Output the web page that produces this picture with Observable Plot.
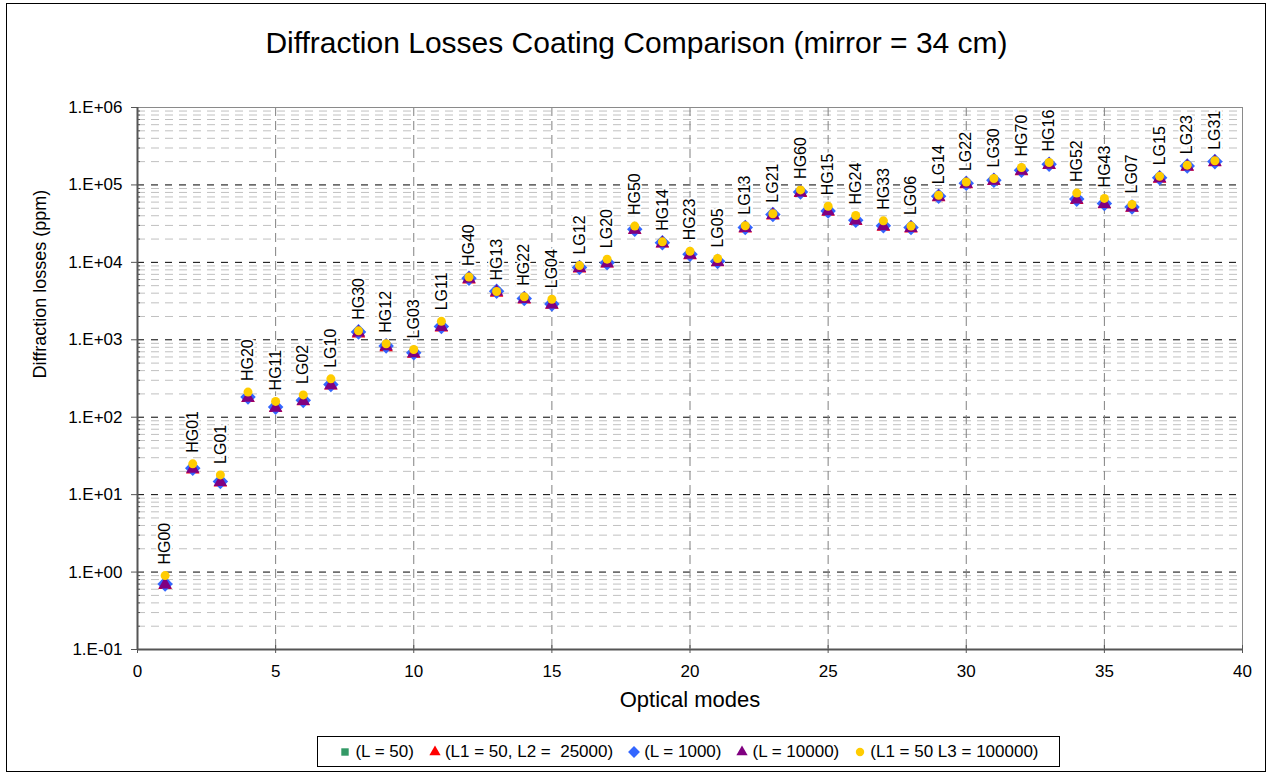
<!DOCTYPE html>
<html>
<head>
<meta charset="utf-8">
<script src="https://cdn.jsdelivr.net/npm/d3@7"></script>
<script src="https://cdn.jsdelivr.net/npm/@observablehq/plot@0.6"></script>
<style>
  html, body { margin: 0; padding: 0; background: white; }
  #wrap { position: relative; width: 1273px; height: 775px; overflow: hidden; font-family: "Liberation Sans", Arial, sans-serif; background: white; }
  #border { position: absolute; left: 6px; top: 3px; width: 1260px; height: 769px; border: 1px solid black; box-sizing: border-box; pointer-events: none; }
  #title { position: absolute; left: 0; width: 1273px; top: 26px; line-height: 34px; text-align: center; font-size: 30px; color: black; }
  #chart { position: absolute; left: 0; top: 0; }
  #legend { position: absolute; left: 317px; top: 736px; width: 743px; height: 31px; border: 1px solid black; box-sizing: border-box;
            display: flex; align-items: center; justify-content: center; font-size: 17px; white-space: pre; background: white; }
  #legend .item { display: flex; align-items: center; margin: 0 7px; }
  #legend svg { margin-right: 3px; }
</style>
</head>
<body>
<div id="wrap">
  <div id="chart"></div>
  <div id="title">Diffraction Losses Coating Comparison (mirror = 34 cm)</div>
  <div id="legend"></div>
  <div id="border"></div>
</div>
<script>
// ---- Data ----
const modes = ["HG00","HG01","LG01","HG20","HG11","LG02","LG10","HG30","HG12","LG03",
  "LG11","HG40","HG13","HG22","LG04","LG12","LG20","HG50","HG14","HG23",
  "LG05","LG13","LG21","HG60","HG15","HG24","HG33","LG06","LG14","LG22",
  "LG30","HG70","HG16","HG52","HG43","LG07","LG15","LG23","LG31"];
const modeIndex = [1,2,3,4,5,6,7,8,9,10,11,12,13,14,15,16,17,18,19,20,21,22,23,24,25,26,27,28,29,30,31,32,33,34,35,36,37,38,39];

const seriesNames = ["(L = 50)", "(L1 = 50, L2 =  25000)", "(L = 1000)", "(L = 10000)", "(L1 = 50 L3 = 100000)"];

const valuesL50 = [0.70, 22, 14.7, 181, 134, 164, 262, 1255, 828, 676, 1478, 6180, 4200, 3390, 2890, 8550, 9850, 26500, 17800, 12600,
  10250, 28000, 41300, 80500, 45900, 34900, 29500, 28000, 70900, 104500, 114500, 154000, 184000, 65200, 57400, 51700, 123500, 175000, 199000];
const valuesL50_25000 = [0.68, 21, 14.3, 176, 131, 160, 255, 1200, 800, 660, 1440, 6000, 4050, 3300, 2820, 8300, 9600, 26000, 17400, 12300,
  10000, 27300, 40200, 78500, 44800, 34000, 28800, 27300, 69000, 102000, 112000, 150000, 180000, 63500, 56000, 50500, 120000, 171000, 195000];
const valuesL1000 = [0.70, 22, 14.8, 182, 135, 165, 264, 1265, 834, 681, 1488, 6220, 4230, 3410, 2900, 8600, 9900, 26700, 17900, 12700,
  10300, 28200, 41600, 80900, 46200, 35100, 29700, 28200, 71300, 105000, 115000, 155000, 185000, 65600, 57700, 52000, 124000, 176000, 200000];
const valuesL10000 = [0.69, 21.5, 14.5, 178, 132, 162, 258, 1240, 820, 668, 1460, 6100, 4150, 3350, 2850, 8450, 9700, 26200, 17600, 12500,
  10100, 27700, 40800, 79500, 45400, 34500, 29200, 27700, 70000, 103000, 113000, 152000, 182000, 64500, 56700, 51100, 122000, 173000, 197000];
const valuesL50_100000 = [0.90, 25, 18, 211, 160, 194, 313, 1305, 889, 750, 1730, 6460, 4200, 3600, 3340, 9080, 11000, 29400, 18400, 13900,
  11200, 29700, 42500, 86300, 53000, 40300, 34400, 29400, 73600, 109000, 121000, 168000, 195000, 78400, 67000, 56000, 129000, 180000, 205000];

const xTicks = [0, 5, 10, 15, 20, 25, 30, 35, 40];
const xGrid = [5, 10, 15, 20, 25, 30, 35];
const yTicks = [0.1, 1, 10, 100, 1000, 10000, 100000, 1000000];
const yTickLabels = ["1.E-01","1.E+00","1.E+01","1.E+02","1.E+03","1.E+04","1.E+05","1.E+06"];
const yMajorGrid = [1, 10, 100, 1000, 10000, 100000];
const yMinorGrid = [0.2,0.3,0.4,0.5,0.6,0.7,0.8,0.9, 2,3,4,5,6,7,8,9, 20,30,40,50,60,70,80,90,
  200,300,400,500,600,700,800,900, 2000,3000,4000,5000,6000,7000,8000,9000,
  20000,30000,40000,50000,60000,70000,80000,90000, 200000,300000,400000,500000,600000,700000,800000,900000];

const colors = ["#339966", "#FF0000", "#3366FF", "#800080", "#FFCC00"];
const symbols = ["square", "triangle", "diamond2", "triangle", "circle"];
const radii = [4.5, 5, 7, 5, 4.5];
const seriesValues = [valuesL50, valuesL50_25000, valuesL1000, valuesL10000, valuesL50_100000];

// ---- Build rows ----
const rows = modes.map((m, i) => ({ mode: m, x: modeIndex[i], top: valuesL50_100000[i] }));
const seriesRows = seriesValues.map((vals, s) => vals.map((v, i) => ({ x: modeIndex[i], y: v, s })));

const font = "'Liberation Sans', Arial, sans-serif";
const frameH = 775 - 107 - 126;
const frameW = 1273 - 137 - 31;

const marks = [
  Plot.ruleY(yMinorGrid, { stroke: "#c0c0c0", strokeDasharray: "8,6" }),
  Plot.ruleY(yMajorGrid, { stroke: "#000000", strokeDasharray: "7,7" }),
  Plot.ruleX(xGrid, { stroke: "#808080", strokeDasharray: "9,5" }),
  Plot.frame({ stroke: "#8a8a8a" }),
  Plot.tickY(yMinorGrid, { y: d => d, insetRight: frameW - 3, stroke: "#555" }),
  Plot.tickX(xTicks, { x: d => d, insetTop: frameH - 4, stroke: "#555" }),
  Plot.ruleX([0], { stroke: "#555", strokeWidth: 2 }),
  Plot.ruleY([0.1], { stroke: "#555", strokeWidth: 2 }),
  Plot.axisY(yTicks, { anchor: "left", tickSize: 6, tickPadding: 9, fontSize: 17, stroke: "#555",
    tickFormat: d => yTickLabels[yTicks.indexOf(d)], label: null }),
  Plot.axisX(xTicks, { anchor: "bottom", tickSize: 4, tickPadding: 11, fontSize: 17, stroke: "#555", label: null }),
];
seriesRows.forEach((data, s) => {
  marks.push(Plot.dot(data, { x: "x", y: "y", symbol: () => symbols[s], fill: colors[s], r: radii[s], stroke: "none" }));
});
marks.push(
  Plot.text(rows, { x: "x", y: "top", text: "mode", rotate: -90, textAnchor: "start", lineAnchor: "middle",
    dy: -11, fontSize: 16, fill: "black", stroke: "white", strokeWidth: 4 }),
  Plot.text(["Diffraction losses (ppm)"], { frameAnchor: "left", rotate: -90, dx: -97, fontSize: 18, fill: "black" }),
  Plot.text(["Optical modes"], { frameAnchor: "bottom", dy: 57, fontSize: 22, fill: "black" })
);

const chart = Plot.plot({
  width: 1273,
  height: 775,
  marginLeft: 137,
  marginRight: 31,
  marginTop: 107,
  marginBottom: 126,
  style: { fontFamily: font, fontSize: "14px", color: "black", background: "transparent" },
  x: { domain: [0, 40], axis: null },
  y: { type: "log", domain: [0.1, 1000000], axis: null },
  symbol: { type: "identity" },
  marks
});
document.getElementById("chart").appendChild(chart);

// ---- Legend ----
const legend = document.getElementById("legend");
seriesNames.forEach((name, s) => {
  const item = document.createElement("div");
  item.className = "item";
  const sym = d3.symbol().type({square: d3.symbolSquare, triangle: d3.symbolTriangle, diamond2: d3.symbolDiamond2, circle: d3.symbolCircle}[symbols[s]])
    .size(s === 2 ? 90 : 55)();
  item.innerHTML = `<svg width="14" height="14" viewBox="-7 -7 14 14"><path d="${sym}" fill="${colors[s]}"/></svg><span>${name}</span>`;
  legend.appendChild(item);
});
</script>
</body>
</html>
